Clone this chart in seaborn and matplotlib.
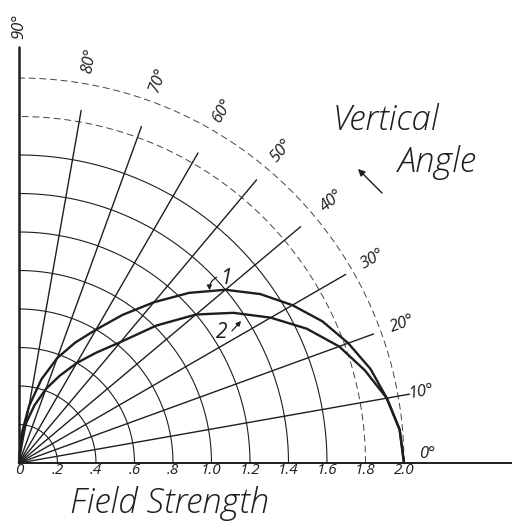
import numpy as np
import matplotlib
matplotlib.use("Agg")
import matplotlib.pyplot as plt
import seaborn as sns
import pandas as pd

# ---- data ----
angles_deg = [0, 5, 10, 15, 20, 25, 30, 35, 40, 45, 50, 55, 60, 65, 70, 75, 80, 85, 90]
curve1 = [2.00, 1.985, 1.94, 1.89, 1.82, 1.74, 1.64, 1.53, 1.40, 1.25, 1.09, 0.94, 0.80, 0.69, 0.58, 0.45, 0.30, 0.15, 0.0]
curve2 = [2.00, 1.985, 1.94, 1.86, 1.77, 1.65, 1.51, 1.36, 1.20, 1.01, 0.82, 0.70, 0.60, 0.50, 0.41, 0.31, 0.21, 0.10, 0.0]
ring_values = [0.2, 0.4, 0.6, 0.8, 1.0, 1.2, 1.4, 1.6, 1.8, 2.0]
tick_labels = ["0", ".2", ".4", ".6", ".8", "1.0", "1.2", "1.4", "1.6", "1.8", "2.0"]
tick_values = [0.0, 0.2, 0.4, 0.6, 0.8, 1.0, 1.2, 1.4, 1.6, 1.8, 2.0]
spoke_angles = [10, 20, 30, 40, 50, 60, 70, 80]
angle_label_values = [0, 10, 20, 30, 40, 50, 60, 70, 80, 90]
curve_names = ["1", "2"]

# styling (lengths of the hand-drawn spokes)
spoke_len = [2.06, 1.96, 1.96, 1.91, 1.92, 1.86, 1.86, 1.86]

sns.set_theme(style="white")
plt.rcParams['font.family'] = ['Open Sans', 'DejaVu Sans']

INK = "#1e1e1e"
PX = 192.5  # pixels per unit
FW = 300

fig = plt.figure(figsize=(5.12, 5.23), dpi=100)
ax = fig.add_axes([0, 0, 1, 1])
ax.set_xlim(-19 / PX, 493 / PX)
ax.set_ylim(-60 / PX, 463 / PX)
ax.axis('off')

th = np.linspace(0, np.pi / 2, 200)
for r in ring_values:
    if r >= 1.8:
        ax.plot(r * np.cos(th), r * np.sin(th), color="#444444", lw=0.7,
                ls=(0, (7, 4)))
    else:
        ax.plot(r * np.cos(th), r * np.sin(th), color=INK, lw=0.8)

for a, L in zip(spoke_angles, spoke_len):
    t = np.deg2rad(a)
    ax.plot([0, L * np.cos(t)], [0, L * np.sin(t)], color=INK, lw=1.0)

# axes lines
ax.plot([0, 2.56], [0, 0], color=INK, lw=1.4)
ax.plot([0, 0], [0, 2.16], color=INK, lw=1.8)

# curves
rows = []
for name, vals in zip(curve_names, [curve1, curve2]):
    for a, r in zip(angles_deg, vals):
        t = np.deg2rad(a)
        rows.append({"curve": name, "x": r * np.cos(t), "y": r * np.sin(t), "order": a})
df = pd.DataFrame(rows)
sns.lineplot(data=df, x="x", y="y", units="curve", estimator=None, sort=False,
             color=INK, lw=1.7, ax=ax, legend=False)

# tick labels
for v, lab in zip(tick_values, tick_labels):
    ax.text(v, -0.038, lab, ha="center", va="center", fontsize=11,
            style="italic", fontweight=400, color=INK)

# angle labels
for a in angle_label_values:
    rr = 2.27 if a == 90 else 2.12
    aa = 1.3 if a == 0 else a
    t = np.deg2rad(aa)
    ax.text(rr * np.cos(t), rr * np.sin(t), f"{a}°", ha="center", va="center",
            rotation=a, rotation_mode="anchor", fontsize=12, style="italic",
            fontweight=400, color=INK)

# titles
ax.text((333 - 19) / PX, (463 - 130) / PX, "Vertical", ha="left", va="baseline",
        fontsize=25, style="italic", fontweight=FW, color=INK)
ax.text((398 - 19) / PX, (463 - 172) / PX, "Angle", ha="left", va="baseline",
        fontsize=25, style="italic", fontweight=FW, color=INK)
ax.text((70 - 19) / PX, (463 - 513) / PX, "Field Strength", ha="left", va="baseline",
        fontsize=25, style="italic", fontweight=FW, color=INK)

# arrow
ax.annotate("", xy=((356 - 19) / PX, (463 - 167) / PX),
            xytext=((384 - 19) / PX, (463 - 195) / PX),
            arrowprops=dict(arrowstyle="-|>", color=INK, lw=1.0, mutation_scale=10))

# curve labels with leaders
ax.text((227 - 19) / PX, (463 - 278) / PX, "1", ha="center", va="center",
        fontsize=15, style="italic", fontweight=400, color=INK)
ax.annotate("", xy=((210 - 19) / PX, (463 - 293) / PX),
            xytext=((219 - 19) / PX, (463 - 276) / PX),
            arrowprops=dict(arrowstyle="-|>", color=INK, lw=0.9, mutation_scale=7,
                            connectionstyle="arc3,rad=0.4"))
ax.text((222 - 19) / PX, (463 - 332) / PX, "2", ha="center", va="center",
        fontsize=15, style="italic", fontweight=400, color=INK)
ax.annotate("", xy=((243 - 19) / PX, (463 - 319) / PX),
            xytext=((230 - 19) / PX, (463 - 333) / PX),
            arrowprops=dict(arrowstyle="-|>", color=INK, lw=0.9, mutation_scale=7))

fig.savefig("out.png", dpi=100)
